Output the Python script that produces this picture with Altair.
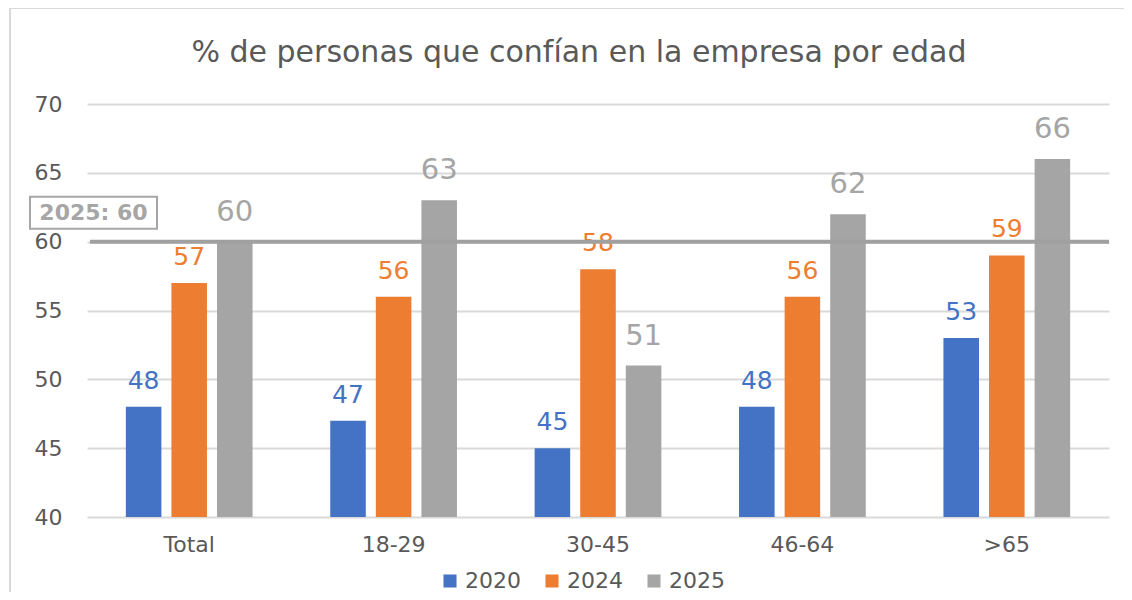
import altair as alt
import pandas as pd

categories = ["Total", "18-29", "30-45", "46-64", ">65"]
series = ["2020", "2024", "2025"]
v2020 = [48, 47, 45, 48, 53]
v2024 = [57, 56, 58, 56, 59]
v2025 = [60, 63, 51, 62, 66]
colors = ["#4472C4", "#ED7D31", "#A5A5A5"]
ref_value = 60
ref_label = "2025: 60"
title_text = "% de personas que confían en la empresa por edad"

rows = []
for s, vals in zip(series, [v2020, v2024, v2025]):
    for c, v in zip(categories, vals):
        rows.append({"cat": c, "serie": s, "valor": v})
df = pd.DataFrame(rows)

FONT = "DejaVu Sans"
W, H = 1022, 413

x_enc = alt.X("cat:N", sort=categories,
              scale=alt.Scale(paddingInner=0.38, paddingOuter=0.19),
              axis=alt.Axis(title=None, labelAngle=0, labelFontSize=22, labelColor="#595959",
                            labelFont=FONT, labelPadding=17, ticks=False, domain=False, grid=False))
xoff_enc = alt.XOffset("serie:N", sort=series, scale=alt.Scale(domain=series, paddingInner=0.22))
y_scale = alt.Scale(domain=[40, 70], zero=False, nice=False)
color_scale = alt.Scale(domain=series, range=colors)
color_enc = alt.Color("serie:N", sort=series, scale=color_scale,
                      legend=alt.Legend(title=None, orient="none", legendX=352, legendY=466,
                                        direction="horizontal", symbolType="square",
                                        symbolSize=170, symbolStrokeWidth=0, padding=0,
                                        labelFontSize=22, labelColor="#595959", labelFont=FONT,
                                        labelOffset=4, columnPadding=20))

base = alt.Chart(df)

bars = base.mark_bar().encode(
    x=x_enc,
    xOffset=xoff_enc,
    y=alt.Y("valor:Q", scale=y_scale,
            axis=alt.Axis(title=None, values=[40, 45, 50, 55, 60, 65, 70], labelFontSize=22,
                          labelColor="#595959", labelFont=FONT, labelPadding=25, ticks=False,
                          domain=False, gridColor="#D9D9D9", gridWidth=2)),
    y2=alt.datum(40),
    color=color_enc,
)

def value_labels(size, keep, dy):
    return base.transform_filter(
        alt.FieldOneOfPredicate(field="serie", oneOf=keep)
    ).mark_text(font=FONT, fontSize=size, baseline="alphabetic", dy=dy).encode(
        x=x_enc,
        xOffset=xoff_enc,
        y=alt.Y("valor:Q", scale=y_scale),
        text=alt.Text("valor:Q"),
        color=alt.Color("serie:N", scale=color_scale, legend=None),
    )

labels_small = value_labels(25, ["2020", "2024"], -18)
labels_big = value_labels(29, ["2025"], -21)

ref_line = alt.Chart(pd.DataFrame({"v": [ref_value]})).mark_rule(color="#A0A0A0", strokeWidth=4).encode(
    y=alt.Y("v:Q", scale=y_scale), x=alt.value(3), x2=alt.value(W)
)

box = alt.Chart(pd.DataFrame({"v": [ref_value]})).mark_rect(
    fill="white", stroke="#A6A6A6", strokeWidth=2, yOffset=-13, y2Offset=-45
).encode(
    y=alt.Y("v:Q", scale=y_scale), y2=alt.Y2("v:Q"), x=alt.value(-57), x2=alt.value(70)
)

box_text = alt.Chart(pd.DataFrame({"v": [ref_value], "t": [ref_label]})).mark_text(
    fontSize=22, fontWeight="bold", font=FONT, color="#A6A6A6", baseline="middle", dy=-29
).encode(
    y=alt.Y("v:Q", scale=y_scale), x=alt.value(6.5), text="t:N"
)

title = alt.Chart(pd.DataFrame({"t": [title_text]})).mark_text(
    fontSize=30, font=FONT, color="#595959", baseline="alphabetic", align="center"
).encode(x=alt.value(492), y=alt.value(-42), text="t:N")

frame_top = alt.Chart(pd.DataFrame({"a": [0]})).mark_rule(color="#D9D9D9", strokeWidth=2).encode(
    x=alt.value(-77), x2=alt.value(1045), y=alt.value(-96)
)
frame_left = alt.Chart(pd.DataFrame({"a": [0]})).mark_rule(color="#D9D9D9", strokeWidth=2).encode(
    x=alt.value(-77), y=alt.value(-96), y2=alt.value(H + 90)
)

chart = alt.layer(bars, labels_small, labels_big, ref_line, box, box_text, title,
                  frame_top, frame_left).resolve_scale(
    color="independent"
).properties(
    width=W, height=H,
    padding={"left": 79, "top": 96, "right": 15, "bottom": 75},
    autosize=alt.AutoSizeParams(type="none"),
).configure(
    background="white"
).configure_view(stroke=None, strokeWidth=0)

chart.save("out.html", embed_options={"renderer": "svg", "actions": False})
